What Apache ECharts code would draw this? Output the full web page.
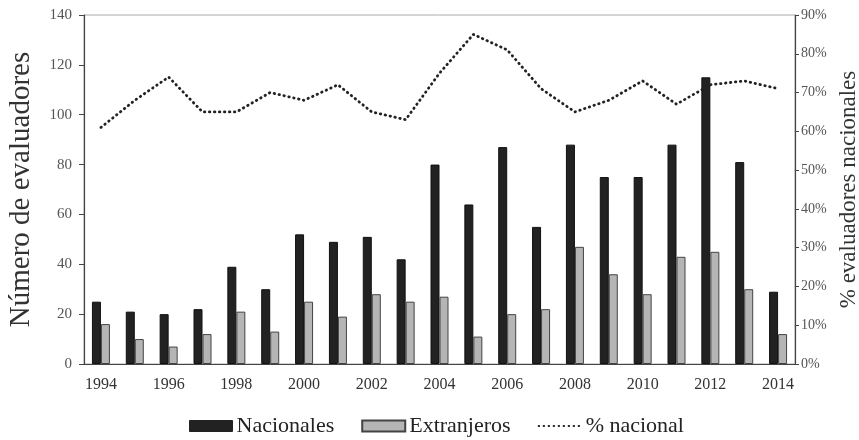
<!DOCTYPE html>
<html><head><meta charset="utf-8">
<script src="https://cdn.jsdelivr.net/npm/echarts@6/dist/echarts.min.js"></script>
<style>html,body{margin:0;padding:0;background:#fff}#c{width:859px;height:440px}</style>
</head><body><div id="c"></div>
<script>
var years = ['1994','1995','1996','1997','1998','1999','2000','2001','2002','2003','2004','2005','2006','2007','2008','2009','2010','2011','2012','2013','2014'];
var nacionales = [25,21,20,22,39,30,52,49,51,42,80,64,87,55,88,75,75,88,115,81,29];
var extranjeros = [16,10,7,12,21,13,25,19,28,25,27,11,20,22,47,36,28,43,45,30,12];
var pctNacional = [61,68,74,65,65,70,68,72,65,63,75,85,81,71,65,68,73,67,72,73,71];
var leftTicks = {min:0, max:140, interval:20};
var rightTicks = {min:0, max:90, interval:10};

var FONT = 'Liberation Serif';
var chart = echarts.init(document.getElementById('c'), null, {renderer:'canvas'});
chart.setOption({
  animation:false,
  textStyle:{fontFamily:FONT},
  grid:{left:84, right:64, top:15, bottom:76, outerBoundsMode:'none', containLabel:false,
        show:true, borderColor:'#aaa', borderWidth:1},
  legend:{
    left:189, top:415, padding:0, itemWidth:43, itemHeight:11, itemGap:27,
    textStyle:{fontFamily:FONT, fontSize:22, color:'#222', padding:[0,0,0,-1]},
    data:[
      {name:'Nacionales', icon:'rect', itemStyle:{color:'#222', borderColor:'#222', borderWidth:1}},
      {name:'Extranjeros', icon:'rect', itemStyle:{color:'#b5b5b5', borderColor:'#444', borderWidth:2}},
      {name:'% nacional', itemStyle:{color:'transparent', borderWidth:0, opacity:0}}
    ]
  },
  xAxis:{
    type:'category', data:years, boundaryGap:true,
    axisLine:{lineStyle:{color:'#444', width:1.2}},
    axisTick:{show:false},
    axisLabel:{interval:1, fontFamily:FONT, fontSize:16, color:'#333', margin:13}
  },
  yAxis:[{
    type:'value', min:leftTicks.min, max:leftTicks.max, interval:leftTicks.interval,
    name:'Número de evaluadores', nameLocation:'middle', nameGap:48,
    nameTextStyle:{fontFamily:FONT, fontSize:29, color:'#333'},
    axisLine:{show:true, lineStyle:{color:'#444', width:1.2}},
    axisTick:{show:true, length:5, lineStyle:{color:'#444'}},
    splitLine:{show:false},
    axisLabel:{fontFamily:FONT, fontSize:15, color:'#555', margin:12}
  },{
    type:'value', min:rightTicks.min, max:rightTicks.max, interval:rightTicks.interval,
    position:'right',
    name:'% evaluadores nacionales', nameLocation:'middle', nameGap:41, nameRotate:90,
    nameTextStyle:{fontFamily:FONT, fontSize:23, color:'#333'},
    axisLine:{show:true, lineStyle:{color:'#444', width:1.2}},
    axisTick:{show:true, length:4, lineStyle:{color:'#444'}},
    splitLine:{show:false},
    axisLabel:{fontFamily:FONT, fontSize:14, color:'#555', margin:6, formatter:'{value}%'}
  }],
  series:[{
    name:'Nacionales', type:'bar', data:nacionales, barWidth:9, barGap:'0%',
    itemStyle:{color:'#222', borderColor:'#111', borderWidth:1}
  },{
    name:'Extranjeros', type:'bar', data:extranjeros, barWidth:9, barGap:'0%',
    itemStyle:{color:'#b5b5b5', borderColor:'#444', borderWidth:1}
  },{
    name:'% nacional', type:'line', yAxisIndex:1, data:pctNacional,
    symbol:'none', smooth:false,
    lineStyle:{color:'#222', width:2.8, type:[0.5,4.5], cap:'round'},
    itemStyle:{color:'#222'}
  }]
});
</script>
</body></html>
